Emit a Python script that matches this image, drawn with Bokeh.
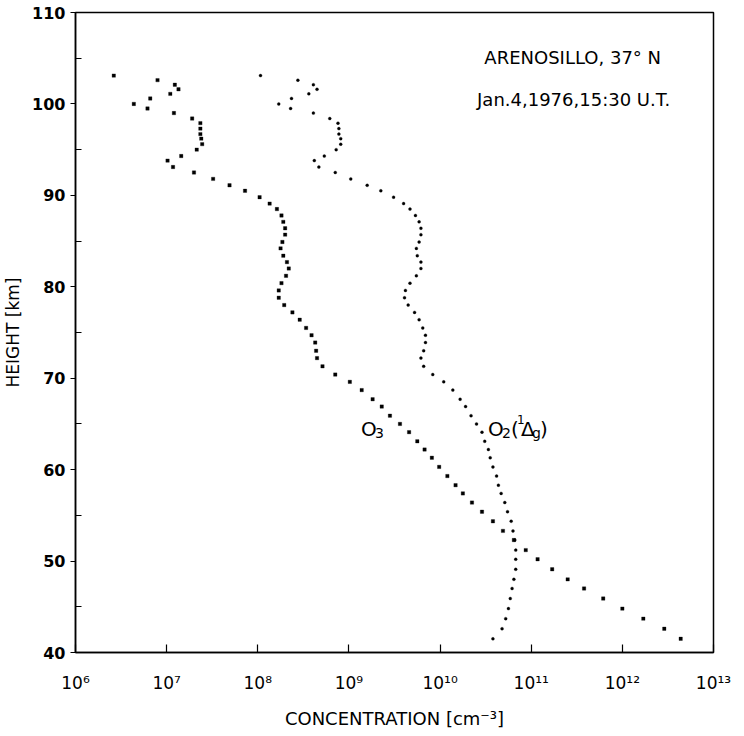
from bokeh.plotting import figure
from bokeh.models import Range1d, FixedTicker, CustomJSTickFormatter, Label
from bokeh.embed import file_html
from bokeh.resources import INLINE

# ---- data ----
heights_km = [103.1, 102.6, 102.1, 101.6, 101.1, 100.6, 100.0, 99.5, 99.0, 98.4,
              97.9, 97.3, 96.7, 96.2, 95.6, 95.0, 94.3, 93.8, 93.1, 92.5,
              91.8, 91.1, 90.5, 89.8, 89.1, 88.5, 87.8, 87.1, 86.4, 85.7,
              84.9, 84.2, 83.4, 82.7, 82.0, 81.2, 80.4, 79.6, 78.8, 78.0,
              77.2, 76.4, 75.5, 74.7, 73.9, 73.0, 72.2, 71.3, 70.4, 69.6,
              68.7, 67.7, 66.9, 65.9, 65.0, 64.1, 63.1, 62.2, 61.3, 60.3,
              59.3, 58.3, 57.4, 56.4, 55.4, 54.35, 53.3, 52.3, 51.2, 50.2,
              49.1, 48.0, 47.0, 45.9, 44.8, 43.7, 42.6, 41.5]

o3_log10_conc = [6.42, 6.90, 7.09, 7.13, 7.04, 6.82, 6.64, 6.79, 7.08, 7.28,
                 7.37, 7.37, 7.37, 7.38, 7.39, 7.33, 7.16, 7.01, 7.07, 7.30,
                 7.51, 7.69, 7.86, 8.02, 8.13, 8.21, 8.26, 8.28, 8.30, 8.30,
                 8.27, 8.25, 8.28, 8.32, 8.34, 8.31, 8.26, 8.23, 8.23, 8.29,
                 8.38, 8.46, 8.53, 8.59, 8.63, 8.64, 8.65, 8.71, 8.85, 9.01,
                 9.14, 9.26, 9.36, 9.45, 9.56, 9.66, 9.75, 9.83, 9.91, 9.99,
                 10.08, 10.17, 10.25, 10.35, 10.46, 10.58, 10.69, 10.81, 10.94, 11.07,
                 11.23, 11.40, 11.58, 11.79, 12.00, 12.23, 12.46, 12.64]

o2_log10_conc = [8.03, 8.44, 8.61, 8.65, 8.56, 8.37, 8.23, 8.36, 8.61, 8.79,
                 8.88, 8.89, 8.89, 8.91, 8.91, 8.86, 8.73, 8.62, 8.67, 8.85,
                 9.02, 9.20, 9.35, 9.49, 9.60, 9.67, 9.73, 9.77, 9.79, 9.79,
                 9.77, 9.74, 9.75, 9.79, 9.79, 9.74, 9.67, 9.62, 9.61, 9.65,
                 9.72, 9.77, 9.81, 9.84, 9.84, 9.82, 9.79, 9.82, 9.92, 10.04,
                 10.14, 10.22, 10.28, 10.34, 10.40, 10.46, 10.49, 10.53, 10.55, 10.58,
                 10.62, 10.64, 10.67, 10.71, 10.74, 10.78, 10.80, 10.82, 10.83, 10.83,
                 10.83, 10.81, 10.79, 10.77, 10.75, 10.72, 10.68, 10.58]

x_ticks = [1e6, 1e7, 1e8, 1e9, 1e10, 1e11, 1e12, 1e13]
x_tick_labels = ["10\u2076", "10\u2077", "10\u2078", "10\u2079",
                 "10\u00b9\u2070", "10\u00b9\u00b9", "10\u00b9\u00b2", "10\u00b9\u00b3"]
y_ticks = [40, 50, 60, 70, 80, 90, 100, 110]
y_minor_ticks = [45, 55, 65, 75, 85, 95, 105]

title_lines = ["ARENOSILLO, 37\u00b0 N", "Jan.4,1976,15:30 U.T."]
x_label = "CONCENTRATION [cm\u207b\u00b3]"
y_label = "HEIGHT [km]"

o3_conc = [10 ** v for v in o3_log10_conc]
o2_conc = [10 ** v for v in o2_log10_conc]

FONT = "DejaVu Sans"

p = figure(width=736, height=732, x_axis_type="log",
           x_range=Range1d(1e6, 1e13), y_range=Range1d(40, 110),
           output_backend="svg", toolbar_location=None,
           min_border_left=74, min_border_right=23,
           min_border_top=12, min_border_bottom=80)

p.grid.visible = False
p.outline_line_color = "black"
p.outline_line_width = 1.5
p.background_fill_color = "white"
p.border_fill_color = "white"

# x axis
p.xaxis.ticker = FixedTicker(ticks=x_ticks, minor_ticks=[])
p.xaxis.formatter = CustomJSTickFormatter(
    args=dict(tvals=x_ticks, tlabels=x_tick_labels), code="""
for (let i = 0; i < tvals.length; i++) {
  if (Math.abs(Math.log10(tvals[i]) - Math.log10(tick)) < 1e-6) { return tlabels[i]; }
}
return "";
""")
p.xaxis.major_tick_in = 8
p.xaxis.major_tick_out = 0
p.xaxis.major_label_standoff = 20
p.xaxis.major_label_text_font = FONT
p.xaxis.major_label_text_font_size = "17px"
p.xaxis.axis_label = x_label
p.xaxis.axis_label_text_font = FONT
p.xaxis.axis_label_text_font_size = "18px"
p.xaxis.axis_label_text_font_style = "normal"
p.xaxis.axis_label_standoff = 12

# y axis
p.yaxis.ticker = FixedTicker(ticks=y_ticks, minor_ticks=y_minor_ticks)
p.yaxis.major_tick_in = 0
p.yaxis.major_tick_out = 5
p.yaxis.minor_tick_in = 6
p.yaxis.minor_tick_out = 0
p.yaxis.major_label_standoff = 5
p.yaxis.major_label_text_font = FONT
p.yaxis.major_label_text_font_size = "16px"
p.yaxis.major_label_text_font_style = "bold"
p.yaxis.axis_label = y_label
p.yaxis.axis_label_text_font = FONT
p.yaxis.axis_label_text_font_size = "17px"
p.yaxis.axis_label_text_font_style = "normal"
p.yaxis.axis_label_standoff = 6

for ax in (p.xaxis, p.yaxis):
    ax.axis_line_color = "black"
    ax.axis_line_width = 1.5
    ax.major_tick_line_color = "black"
    ax.major_tick_line_width = 1.2
    ax.minor_tick_line_color = "black"
    ax.minor_tick_line_width = 1.2
    ax.major_label_text_color = "black"
    ax.axis_label_text_color = "black"

# data
p.scatter(x=o3_conc, y=heights_km, marker="square", size=3.4,
          fill_color="black", line_color="black", line_width=0.3)
p.scatter(x=o2_conc, y=heights_km, marker="circle", size=3.0,
          fill_color="black", line_color="black", line_width=0.3)

# annotations (top right)
p.add_layout(Label(x=10 ** 11.455, y=105.1, text=title_lines[0], text_align="center",
                   text_baseline="middle", text_font=FONT, text_font_size="18px",
                   text_color="black"))
p.add_layout(Label(x=10 ** 11.466, y=100.5, text=title_lines[1], text_align="center",
                   text_baseline="middle", text_font=FONT, text_font_size="18px",
                   text_color="black"))

# curve labels built from pieces (sub/superscripts)
def piece(x, y, text, dx, dy, size):
    p.add_layout(Label(x=x, y=y, text=text, x_offset=dx, y_offset=dy,
                       text_align="left", text_baseline="alphabetic",
                       text_font=FONT, text_font_size=size, text_color="black"))

o3_lab_x, o3_lab_y = 10 ** 9.133, 64.4
piece(o3_lab_x, o3_lab_y, "O", 0, 0, "20px")
piece(o3_lab_x, o3_lab_y, "3", 14, -4, "14px")

o2_lab_x, o2_lab_y = 10 ** 10.527, 64.45
piece(o2_lab_x, o2_lab_y, "O", 0, 0, "20px")
piece(o2_lab_x, o2_lab_y, "2", 14, -4, "14px")
piece(o2_lab_x, o2_lab_y, "(", 23, 0, "20px")
piece(o2_lab_x, o2_lab_y, "1", 29, 9, "12px")
piece(o2_lab_x, o2_lab_y, "\u0394", 33, 0, "20px")
piece(o2_lab_x, o2_lab_y, "g", 44, -4, "14px")
piece(o2_lab_x, o2_lab_y, ")", 52, 0, "20px")

open("out.html", "w").write(file_html(p, INLINE))
